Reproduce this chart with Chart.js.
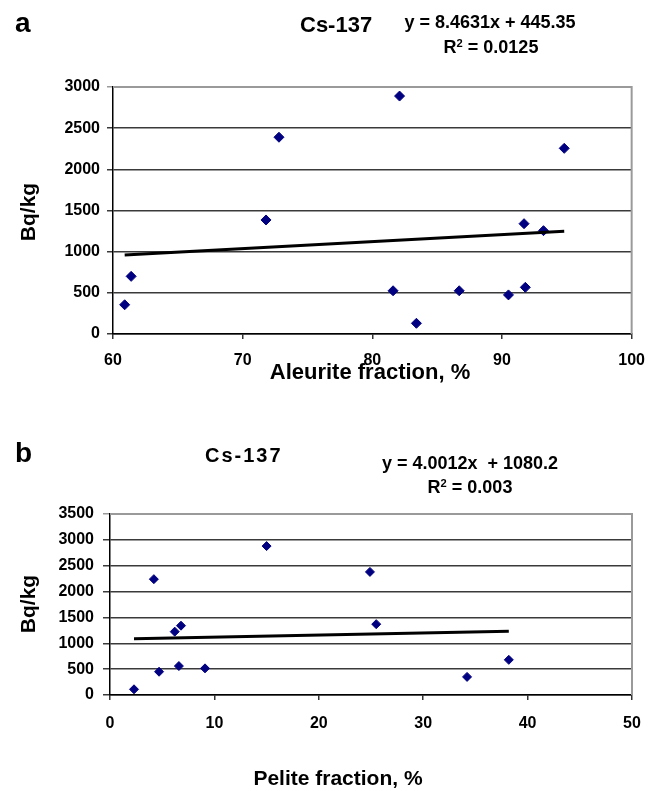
<!DOCTYPE html>
<html>
<head>
<meta charset="utf-8">
<script src="https://cdn.jsdelivr.net/npm/chart.js@4.4.1/dist/chart.umd.min.js"></script>
<style>
  body { margin: 0; background: #fff; }
  #page { position: relative; width: 657px; height: 791px; overflow: hidden; font-family: 'Liberation Sans', Arial, sans-serif; font-weight: bold; color: #000; }
  canvas { position: absolute; left: 0; }
  .t { position: absolute; line-height: 1; white-space: pre; }
  .c { transform: translateX(-50%); }
  .v { transform: translate(-50%, -50%) rotate(-90deg); }
  sup { font-size: 0.62em; vertical-align: 0.55em; line-height: 0; }
</style>
</head>
<body>
<div id="page">
  <canvas id="chartA" width="657" height="400" style="top:0"></canvas>
  <canvas id="chartB" width="657" height="391" style="top:400px"></canvas>

  <div class="t" style="left:15px; top:9px; font-size:28px">a</div>
  <div class="t" style="left:300px; top:14px; font-size:22px">Cs-137</div>
  <div class="t c" style="left:490px; top:13px; font-size:18px">y = 8.4631x + 445.35</div>
  <div class="t c" style="left:491px; top:38px; font-size:18px">R<sup>2</sup> = 0.0125</div>
  <div class="t v" style="left:27px; top:212px; font-size:21px">Bq/kg</div>
  <div class="t c" style="left:370px; top:361px; font-size:22px">Aleurite fraction, %</div>

  <div class="t" style="left:15px; top:439px; font-size:28px">b</div>
  <div class="t" style="left:205px; top:445px; font-size:20px; letter-spacing:2px">Cs-137</div>
  <div class="t c" style="left:470px; top:454px; font-size:18px">y = 4.0012x  + 1080.2</div>
  <div class="t c" style="left:470px; top:478px; font-size:18px">R<sup>2</sup> = 0.003</div>
  <div class="t v" style="left:27px; top:604px; font-size:21px">Bq/kg</div>
  <div class="t c" style="left:338px; top:767px; font-size:21px">Pelite fraction, %</div>
</div>

<script>
// panel a: Cs-137 vs aleurite fraction
const aleuriteX = [60.9, 61.4, 71.8, 72.8, 82.1, 94.8, 91.7, 93.2, 81.6, 86.7, 90.5, 91.8, 83.4];
const aleuriteY = [355, 700, 1385, 2390, 2890, 2255, 1340, 1255, 525, 525, 475, 567, 130];
const trendAX = [60.9, 94.8];
const trendAY = [961, 1248];
const xTicksA = [60, 70, 80, 90, 100];
const yTicksA = [0, 500, 1000, 1500, 2000, 2500, 3000];

// panel b: Cs-137 vs pelite fraction
const peliteX = [2.3, 4.2, 4.7, 6.2, 6.6, 6.8, 9.1, 15.0, 24.9, 25.5, 34.2, 38.2];
const peliteY = [110, 2240, 450, 1225, 560, 1340, 515, 2880, 2380, 1370, 350, 680];
const trendBX = [2.3, 38.2];
const trendBY = [1089, 1233];
const xTicksB = [0, 10, 20, 30, 40, 50];
const yTicksB = [0, 500, 1000, 1500, 2000, 2500, 3000, 3500];

const toPoints = (xs, ys) => xs.map((x, i) => ({ x: x, y: ys[i] }));

// gray frame on the top and right of the plot, like the Excel plot area
const frame = {
    id: 'frame',
    beforeDatasetsDraw(chart) {
        const { ctx, chartArea: a } = chart;
        ctx.save();
        ctx.strokeStyle = '#9a9a9a';
        ctx.lineWidth = 2;
        ctx.beginPath();
        ctx.moveTo(a.left, a.top);
        ctx.lineTo(a.right, a.top);
        ctx.lineTo(a.right, a.bottom);
        ctx.stroke();
        ctx.restore();
    }
};

function makeChart(id, p) {
    const tickFont = { family: 'Liberation Sans', weight: 'bold', size: p.fontSize };
    const yMax = p.yTicks[p.yTicks.length - 1];
    return new Chart(document.getElementById(id), {
        type: 'scatter',
        data: {
            datasets: [
                {
                    data: toPoints(p.tx, p.ty),
                    showLine: true,
                    borderColor: '#000',
                    borderWidth: p.lineWidth,
                    pointRadius: 0,
                    order: 0
                },
                {
                    data: toPoints(p.xs, p.ys),
                    pointStyle: 'rectRot',
                    pointRadius: p.radius,
                    backgroundColor: '#000080',
                    borderColor: '#000080',
                    borderWidth: 1,
                    order: 1
                }
            ]
        },
        options: {
            responsive: false,
            animation: false,
            layout: { padding: p.padding },
            plugins: { legend: { display: false }, tooltip: { enabled: false } },
            scales: {
                x: {
                    type: 'linear',
                    min: p.xTicks[0],
                    max: p.xTicks[p.xTicks.length - 1],
                    afterBuildTicks: s => { s.ticks = p.xTicks.map(v => ({ value: v })); },
                    afterFit: s => { s.height = p.xHeight; },
                    grid: { drawOnChartArea: false, drawTicks: true, tickLength: 5, color: '#333', lineWidth: 1.5 },
                    border: { color: '#000', width: 1.5 },
                    ticks: { font: tickFont, color: '#000', padding: p.xPad, maxRotation: 0, callback: v => String(v) }
                },
                y: {
                    type: 'linear',
                    min: 0,
                    max: yMax,
                    afterBuildTicks: s => { s.ticks = p.yTicks.map(v => ({ value: v })); },
                    afterFit: s => { s.width = p.yWidth; },
                    grid: {
                        tickLength: p.yTickLen,
                        lineWidth: 1.5,
                        color: c => (c.tick && c.tick.value === yMax ? '#9a9a9a' : '#3a3a3a')
                    },
                    border: { color: '#000', width: 1.5 },
                    ticks: { font: tickFont, color: '#000', padding: p.yPad, callback: v => String(v) }
                }
            }
        },
        plugins: [frame]
    });
}

makeChart('chartA', {
    xs: aleuriteX, ys: aleuriteY, tx: trendAX, ty: trendAY,
    xTicks: xTicksA, yTicks: yTicksA,
    padding: { left: 0, right: 24, top: 87, bottom: 0 },
    yWidth: 113, xHeight: 66, fontSize: 16,
    yTickLen: 6, yPad: 7, xPad: 12, radius: 5, lineWidth: 3
});

makeChart('chartB', {
    xs: peliteX, ys: peliteY, tx: trendBX, ty: trendBY,
    xTicks: xTicksB, yTicks: yTicksB,
    padding: { left: 0, right: 25, top: 114, bottom: 0 },
    yWidth: 110, xHeight: 96, fontSize: 16,
    yTickLen: 7, yPad: 9, xPad: 14, radius: 4.5, lineWidth: 3
});
</script>
</body>
</html>
